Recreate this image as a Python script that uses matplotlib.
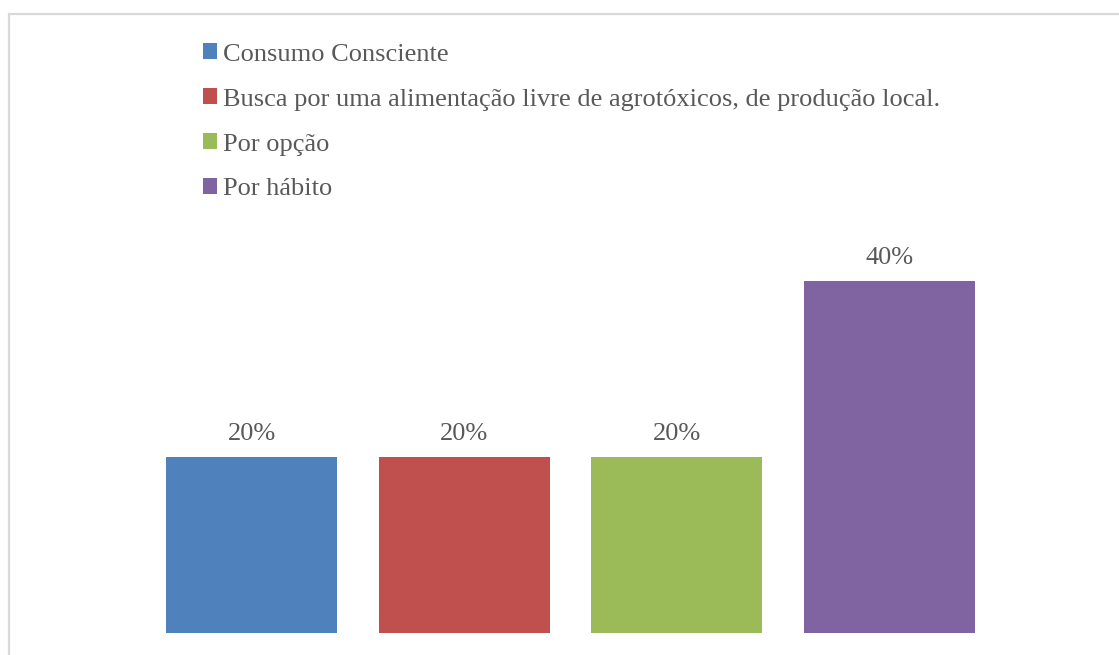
import matplotlib
matplotlib.use("Agg")
import matplotlib.pyplot as plt
from matplotlib.patches import Rectangle, Patch

categories = ["Consumo Consciente",
              "Busca por uma alimentação livre de agrotóxicos, de produção local.",
              "Por opção",
              "Por hábito"]
values = [20, 20, 20, 40]
labels = ["20%", "20%", "20%", "40%"]
colors = ["#4F81BD", "#C0504D", "#9BBB59", "#8064A2"]

W, H = 1119, 655
fig = plt.figure(figsize=(W / 100, H / 100), dpi=100)
plt.rcParams['font.family'] = ['Liberation Serif', 'DejaVu Serif']
text_color = "#595959"

# outer chart border (light grey)
fig.patches.append(Rectangle((8.5 / W, -0.05), 1.1, 1 - 13.5 / H + 0.05,
                             transform=fig.transFigure, fill=False,
                             edgecolor="#d9d9d9", linewidth=1.6))

# axes placement in pixels
left_px, right_px = 145.2, 995.8
bottom_px = 633
top_px = 633 - 176 * 2.25
ax = fig.add_axes([left_px / W, 1 - bottom_px / H,
                   (right_px - left_px) / W, (bottom_px - top_px) / H])

x = list(range(len(values)))
bars = ax.bar(x, values, width=0.804, color=colors)
ax.set_xlim(-0.5, 3.5)
ax.set_ylim(0, 45)
ax.axis("off")

for xi, v, lab in zip(x, values, labels):
    ax.annotate(lab, (xi, v), xytext=(0, 16.3), textcoords="offset points",
                ha="center", va="center", fontsize=19, color=text_color)

handles = [Patch(facecolor=c, edgecolor="none") for c in colors]
leg = fig.legend(handles, categories, loc="upper left",
                 bbox_to_anchor=(203 / W, 1 - 43.5 / H),
                 frameon=False, fontsize=19, labelcolor=text_color,
                 handlelength=0.53, handleheight=0.53, handletextpad=0.23,
                 labelspacing=0.865, borderaxespad=0, borderpad=0)

fig.savefig("out.png", dpi=100, facecolor="white")
